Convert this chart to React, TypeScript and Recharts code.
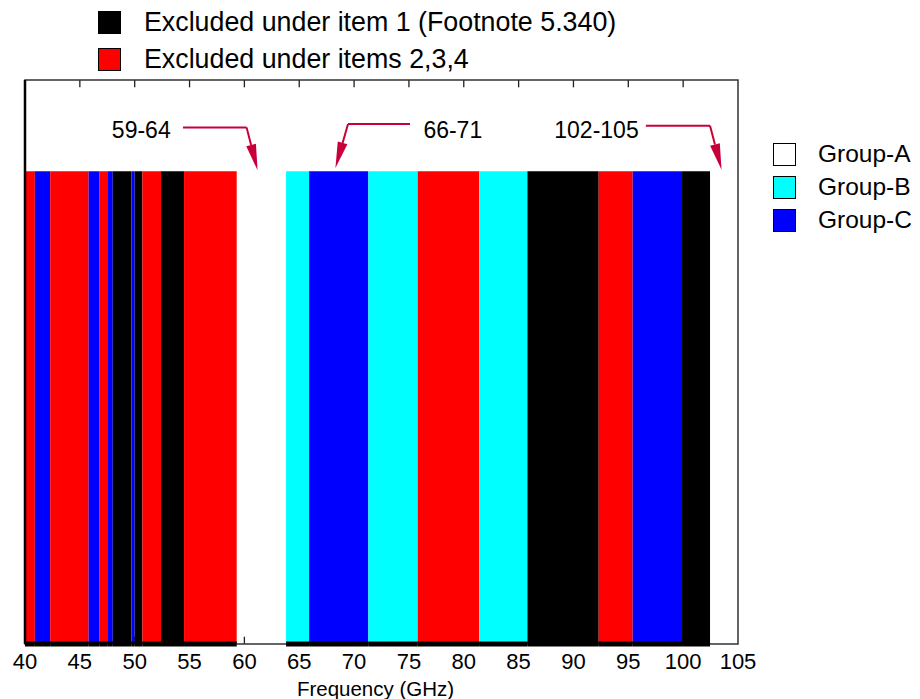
import {
  ComposedChart,
  XAxis,
  YAxis,
  Line,
  ReferenceArea,
  ReferenceLine,
  ReferenceDot,
} from "recharts"

// band edges in GHz
const bandEdges = [
  40, 40.9, 42.3, 45.8, 46.8, 47.5, 48.0, 49.7, 50.0, 50.7, 52.4, 54.5, 59.3,
  63.8, 65.9, 71.3, 75.8, 81.4, 85.8, 92.3, 95.4, 99.9, 102.45, 105,
]
const bandKinds = [
  "items234", "groupC", "items234", "groupC", "items234", "groupC", "item1",
  "groupC", "item1", "items234", "item1", "items234", "groupA", "groupB",
  "groupC", "groupB", "items234", "groupB", "item1", "items234", "groupC",
  "item1", "groupA",
]
const bandTop = 83.8

const xTicks = [40, 45, 50, 55, 60, 65, 70, 75, 80, 85, 90, 95, 100, 105]

const exclusionKeys = ["item1", "items234"]
const exclusionLabels = ["Excluded under item 1 (Footnote 5.340)", "Excluded under items 2,3,4"]
const groupKeys = ["groupA", "groupB", "groupC"]
const groupLabels = ["Group-A", "Group-B", "Group-C"]

const arrowLabels = ["59-64", "66-71", "102-105"]
const arrowLabelX = [50.6, 79.0, 92.1]
const arrowStartX = [54.4, 75.1, 96.6]
const arrowBendX = [60.2, 69.45, 102.45]
const arrowTipX = [61.2, 68.3, 103.5]
const arrowLineY = [91.6, 92.2, 91.9]
const arrowTipY = [84.0, 84.4, 84.1]
const arrowLabelY = 91.2

const kindColor: Record<string, string> = {
  item1: "#000000",
  items234: "#ff0000",
  groupA: "#ffffff",
  groupB: "#00ffff",
  groupC: "#0000ff",
}

const arrowColor = "#c8003a"

const bands = bandKinds.map((kind, i) => ({
  from: bandEdges[i],
  to: bandEdges[i + 1],
  kind,
  top: bandTop,
}))

function ArrowHead(props: any) {
  const { x1, y1, x2, y2 } = props
  const ang = Math.atan2(y2 - y1, x2 - x1)
  const len = 26
  const half = 5
  const bx = x2 - len * Math.cos(ang)
  const by = y2 - len * Math.sin(ang)
  const px = -Math.sin(ang) * half
  const py = Math.cos(ang) * half
  return (
    <g>
      <line x1={x1} y1={y1} x2={bx} y2={by} stroke={arrowColor} strokeWidth={2} />
      <polygon
        points={`${x2},${y2} ${bx + px},${by + py} ${bx - px},${by - py}`}
        fill={arrowColor}
      />
    </g>
  )
}

function Swatch({ color }: { color: string }) {
  return (
    <div
      style={{
        width: 23,
        height: 23,
        background: color,
        border: "1px solid #000",
        boxSizing: "border-box",
        flexShrink: 0,
      }}
    />
  )
}

export default function App() {
  return (
    <div
      style={{
        position: "absolute",
        left: 0,
        top: 0,
        width: 920,
        height: 699,
        background: "#fff",
        fontFamily: "'Liberation Sans', Arial, sans-serif",
      }}
    >
      {exclusionLabels.map((label, i) => (
        <div
          key={label}
          style={{
            position: "absolute",
            left: 98,
            top: 10 + i * 37,
            height: 24,
            display: "flex",
            alignItems: "center",
            fontSize: 26.8,
            color: "#000",
            whiteSpace: "nowrap",
          }}
        >
          <Swatch color={kindColor[exclusionKeys[i]]} />
          <span style={{ marginLeft: 23 }}>{label}</span>
        </div>
      ))}

      {groupLabels.map((label, i) => (
        <div
          key={label}
          style={{
            position: "absolute",
            left: 773,
            top: 142 + i * 33,
            height: 24,
            display: "flex",
            alignItems: "center",
            fontSize: 24.5,
            color: "#000",
            whiteSpace: "nowrap",
          }}
        >
          <Swatch color={kindColor[groupKeys[i]]} />
          <span style={{ marginLeft: 22 }}>{label}</span>
        </div>
      ))}

      <ComposedChart
        width={920}
        height={699}
        data={bands}
        margin={{ top: 80, right: 182, bottom: 0, left: 25 }}
      >
        <XAxis
          dataKey="from"
          type="number"
          domain={[40, 105]}
          ticks={xTicks}
          allowDataOverflow
          height={55}
          axisLine={false}
          tickLine={false}
          tickSize={6}
          tickMargin={3}
          tick={{ fontSize: 22, fill: "#000" }}
          interval={0}
          label={{
            value: "Frequency (GHz)",
            position: "insideBottom",
            offset: 3,
            dx: -6,
            fontSize: 20.5,
            fill: "#000",
          }}
        />
        <YAxis type="number" domain={[0, 100]} hide />

        {/* inward tick marks; bottom ones end up hidden under the coloured bands */}
        {xTicks.slice(1, -1).map((t) => (
          <ReferenceArea
            key={`tb-${t}`}
            x1={t - 0.06}
            x2={t + 0.06}
            y1={0}
            y2={1.3}
            fill="#222"
            fillOpacity={1}
            stroke="none"
          />
        ))}
        {xTicks.slice(1, -1).map((t) => (
          <ReferenceArea
            key={`tt-${t}`}
            x1={t - 0.06}
            x2={t + 0.06}
            y1={98.7}
            y2={100}
            fill="#222"
            fillOpacity={1}
            stroke="none"
          />
        ))}

        {bands
          .filter((b) => b.kind !== "groupA")
          .map((b, i) => (
            <ReferenceArea
              key={`band-${i}`}
              x1={b.from}
              x2={b.to}
              y1={0}
              y2={b.top}
              fill={kindColor[b.kind]}
              fillOpacity={1}
              stroke="none"
            />
          ))}

        <ReferenceArea
          x1={40}
          x2={105}
          y1={0}
          y2={100}
          fill="none"
          stroke="#333"
          strokeWidth={1.5}
        />
        <ReferenceLine x={40} stroke="#000" strokeWidth={2.5} />

        {bands
          .filter((b) => b.kind !== "groupA")
          .map((b, i) => (
            <ReferenceLine
              key={`base-${i}`}
              segment={[
                { x: b.from, y: 0 },
                { x: b.to, y: 0 },
              ]}
              stroke="#000"
              strokeWidth={5}
            />
          ))}

        {arrowLabels.map((label, i) => (
          <ReferenceLine
            key={`arrow-h-${i}`}
            segment={[
              { x: arrowStartX[i], y: arrowLineY[i] },
              { x: arrowBendX[i], y: arrowLineY[i] },
            ]}
            stroke={arrowColor}
            strokeWidth={2}
          />
        ))}
        {arrowLabels.map((label, i) => (
          <ReferenceLine
            key={`arrow-d-${i}`}
            segment={[
              { x: arrowBendX[i], y: arrowLineY[i] },
              { x: arrowTipX[i], y: arrowTipY[i] },
            ]}
            shape={ArrowHead}
          />
        ))}
        {arrowLabels.map((label, i) => (
          <ReferenceDot
            key={`arrow-l-${i}`}
            x={arrowLabelX[i]}
            y={arrowLabelY}
            r={0}
            fill="none"
            stroke="none"
            label={{ value: label, position: "center", fontSize: 23, fill: "#000" }}
          />
        ))}

        <Line
          dataKey="top"
          stroke="none"
          dot={false}
          activeDot={false}
          isAnimationActive={false}
          legendType="none"
        />
      </ComposedChart>
    </div>
  )
}
